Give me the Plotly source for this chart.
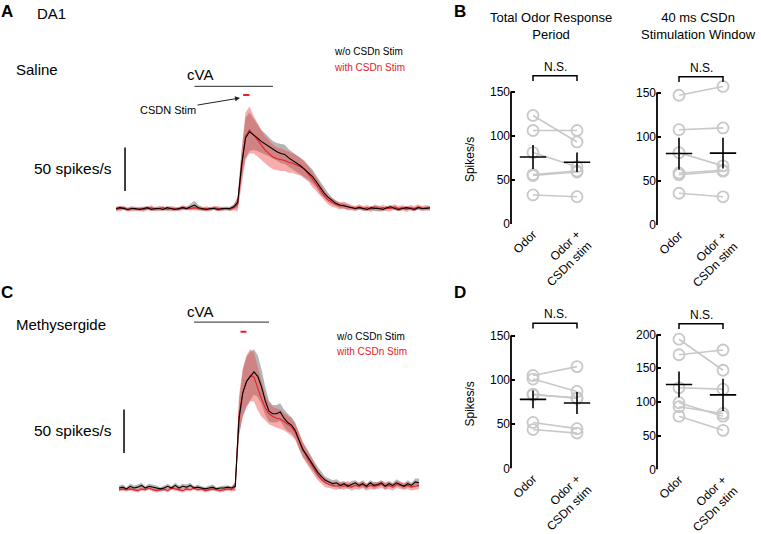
import numpy as np
import plotly.graph_objects as go

W, H = 761, 534
FONT = "Liberation Sans, Arial, sans-serif"
RED = "#e3222a"
PT_GRAY = "#c8c8c8"

# PSTH time base (s), 50 ms bins
TIME = np.round(np.arange(0, 4.0001, 0.05), 2)
ODOR_ON, ODOR_OFF = 1.0, 2.0
STIM_ON, STIM_OFF = 1.62, 1.70
SCALE_BAR = 50  # spikes/s

# A: Saline, mean rate +/- SEM (spikes/s)
A_CTRL = [5, 6, 5, 4, 5, 5, 4, 5, 6, 4,
          5, 5, 4, 6, 5, 4, 5, 6, 5, 7,
          9, 6, 5, 4, 5, 5, 4, 5, 5, 5,
          7, 12, 55, 86, 93, 90, 86, 82, 79, 76,
          72, 70, 68, 67, 63, 60, 57, 54, 50, 46,
          42, 36, 29, 23, 18, 14, 11, 9, 8, 7,
          6, 5, 6, 5, 4, 6, 5, 5, 4, 6,
          7, 5, 4, 5, 6, 5, 4, 6, 5, 5,
          6]
A_CTRL_SEM = [2, 2, 2, 2, 2, 2, 2, 2, 2, 2,
              2, 2, 2, 2, 2, 2, 2, 2, 2, 3,
              5, 3, 2, 2, 2, 2, 2, 2, 2, 2,
              3, 6, 16, 23, 22, 18, 15, 13, 12, 11,
              10, 10, 11, 11, 10, 10, 9, 9, 9, 8,
              8, 7, 7, 6, 5, 4, 3, 3, 3, 3,
              2, 2, 2, 2, 2, 2, 3, 3, 2, 2,
              2, 2, 2, 2, 2, 2, 2, 2, 2, 2,
              2]
A_STIM = [4, 5, 6, 4, 5, 4, 5, 4, 5, 6,
          4, 5, 6, 4, 5, 5, 4, 6, 5, 5,
          6, 5, 4, 5, 4, 6, 5, 4, 5, 4,
          6, 10, 52, 88, 95, 90, 84, 78, 72, 68,
          64, 62, 61, 60, 58, 57, 55, 53, 50, 45,
          39, 33, 26, 20, 15, 12, 10, 8, 9, 7,
          6, 5, 7, 5, 6, 4, 7, 5, 6, 5,
          5, 7, 5, 6, 4, 6, 5, 7, 5, 6,
          5]
A_STIM_SEM = [2, 3, 2, 2, 3, 2, 2, 3, 2, 3,
              2, 3, 2, 2, 3, 2, 2, 3, 2, 2,
              3, 2, 2, 3, 2, 2, 3, 2, 2, 2,
              3, 8, 20, 27, 27, 22, 19, 17, 16, 15,
              14, 13, 13, 12, 12, 11, 11, 10, 10, 9,
              9, 8, 7, 6, 5, 5, 4, 4, 4, 4,
              3, 3, 3, 3, 3, 3, 3, 3, 3, 3,
              3, 3, 3, 3, 3, 3, 3, 3, 3, 3,
              3]

# C: Methysergide
C_CTRL = [6, 7, 5, 8, 6, 7, 9, 6, 8, 7,
          6, 5, 6, 8, 6, 9, 6, 8, 7, 9,
          6, 7, 6, 5, 6, 7, 5, 6, 6, 7,
          6, 8, 85, 115, 128, 134, 139, 134, 122, 106,
          94, 91, 91, 93, 86, 81, 78, 72, 60, 50,
          44, 37, 30, 24, 19, 15, 13, 11, 12, 9,
          11, 8, 10, 12, 9, 11, 8, 12, 9, 10,
          12, 8, 11, 9, 12, 10, 8, 11, 9, 13,
          12]
C_CTRL_SEM = [3, 3, 2, 3, 3, 3, 3, 2, 3, 3,
              3, 2, 3, 3, 2, 3, 3, 3, 3, 3,
              2, 3, 2, 2, 3, 3, 2, 2, 3, 2,
              2, 5, 20, 26, 28, 28, 26, 24, 20, 16,
              12, 10, 10, 10, 10, 10, 9, 9, 9, 8,
              8, 7, 7, 6, 5, 4, 4, 4, 4, 4,
              3, 3, 4, 3, 3, 4, 3, 3, 4, 3,
              3, 4, 3, 3, 4, 3, 3, 4, 3, 4,
              5]
C_STIM = [4, 5, 4, 5, 4, 3, 5, 4, 6, 4,
          3, 4, 5, 3, 6, 5, 4, 3, 5, 4,
          6, 4, 5, 3, 4, 5, 4, 3, 4, 5,
          4, 8, 90, 115, 128, 135, 133, 120, 108, 98,
          91, 88, 86, 85, 82, 79, 76, 70, 60, 50,
          42, 35, 28, 21, 16, 12, 10, 9, 8, 9,
          8, 10, 7, 9, 8, 10, 7, 9, 8, 9,
          10, 8, 9, 7, 10, 9, 8, 9, 7, 8,
          9]
C_STIM_SEM = [2, 2, 2, 2, 2, 2, 2, 2, 2, 2,
              2, 2, 2, 2, 2, 2, 2, 2, 2, 2,
              2, 2, 2, 2, 2, 2, 2, 2, 2, 2,
              2, 5, 22, 28, 30, 30, 28, 25, 20, 15,
              12, 11, 11, 11, 10, 10, 10, 9, 9, 9,
              8, 8, 7, 6, 5, 5, 4, 4, 4, 4,
              4, 4, 4, 4, 4, 4, 4, 4, 4, 4,
              4, 4, 4, 4, 4, 4, 4, 4, 4, 4,
              4]

# B/D: per-fly responses (spikes/s)
CATS = ["Odor", "Odor +<br>CSDn stim"]
B1_ODOR = [123, 106, 81, 56, 55, 33]
B1_STIM = [93, 106, 65, 60, 59, 31]
B1_MEAN, B1_ERR = [76, 70], [13.5, 11]
B2_ODOR = [147, 108, 82, 59, 57, 36]
B2_STIM = [157, 110, 67, 62, 61, 32]
B2_MEAN, B2_ERR = [81, 81.5], [18, 17.5]
D1_ODOR = [105, 101, 84, 83, 52, 44]
D1_STIM = [115, 87, 79, 80, 45, 40]
D1_MEAN, D1_ERR = [78, 74], [10, 12.5]
D2_ODOR = [193, 170, 121, 99, 93, 79]
D2_STIM = [147, 177, 119, 79, 83, 58]
D2_MEAN, D2_ERR = [126, 110.5], [19, 24]


def px(x):
    return x / W


def py(y):
    return 1 - y / H


fig = go.Figure()


def add_psth(mean, sem, color, fill, n):
    mean, sem = np.array(mean, float), np.array(sem, float)
    ax = dict(xaxis="x" + n, yaxis="y" + n, showlegend=False, hoverinfo="skip")
    fig.add_trace(go.Scatter(x=TIME, y=mean + sem, mode="lines", line=dict(width=0), **ax))
    fig.add_trace(go.Scatter(x=TIME, y=mean - sem, mode="lines", line=dict(width=0),
                             fill="tonexty", fillcolor=fill, **ax))
    return go.Scatter(x=TIME, y=mean, mode="lines", line=dict(color=color, width=1.1), **ax)


for n, ctrl, ctrl_sem, stim, stim_sem in [("", A_CTRL, A_CTRL_SEM, A_STIM, A_STIM_SEM),
                                           ("2", C_CTRL, C_CTRL_SEM, C_STIM, C_STIM_SEM)]:
    black = add_psth(ctrl, ctrl_sem, "black", "rgba(120,120,120,0.55)", n)
    red = add_psth(stim, stim_sem, RED, "rgba(240,70,70,0.45)", n)
    fig.add_trace(red)
    fig.add_trace(black)


def add_pairs(odor, stim, mean, err, bracket, n):
    xs, ys = [], []
    for a, b in zip(odor, stim):
        xs += [0, 1, None]
        ys += [a, b, None]
    ax = dict(xaxis="x" + n, yaxis="y" + n, showlegend=False, hoverinfo="skip")
    fig.add_trace(go.Scatter(x=xs, y=ys, mode="lines+markers", cliponaxis=False,
                             line=dict(color=PT_GRAY, width=1.6),
                             marker=dict(symbol="circle-open", size=11, color=PT_GRAY,
                                         line=dict(width=1.8)), **ax))
    fig.add_trace(go.Scatter(x=[0, 1], y=mean, mode="markers", cliponaxis=False,
                             marker=dict(size=1, color="rgba(0,0,0,0)"),
                             error_y=dict(type="data", array=err, color="black", thickness=1.6, width=0),
                             error_x=dict(type="constant", value=0.3, color="black", thickness=1.6, width=0),
                             **ax))
    lo, hi = bracket
    fig.add_trace(go.Scatter(x=[0, 0, 1, 1], y=[lo, hi, hi, lo], mode="lines", cliponaxis=False,
                             line=dict(color="black", width=1.5), **ax))
    fig.add_annotation(x=0.5, y=hi, xref="x" + n, yref="y" + n, text="N.S.", showarrow=False,
                       yanchor="bottom", yshift=0, font=dict(size=12))


add_pairs(B1_ODOR, B1_STIM, B1_MEAN, B1_ERR, (162, 168), "3")
add_pairs(B2_ODOR, B2_STIM, B2_MEAN, B2_ERR, (162, 168), "4")
add_pairs(D1_ODOR, D1_STIM, D1_MEAN, D1_ERR, (158, 164), "5")
add_pairs(D2_ODOR, D2_STIM, D2_MEAN, D2_ERR, (208, 216), "6")

# PSTH axes (hidden)
hidden = dict(visible=False, range=[0, 4], fixedrange=True)
layout_axes = dict(
    xaxis=dict(domain=[px(116), px(430)], anchor="y", **hidden),
    yaxis=dict(domain=[py(219.5), py(39.5)], anchor="x", visible=False, range=[0, 200]),
    xaxis2=dict(domain=[px(119), px(419)], anchor="y2", **hidden),
    yaxis2=dict(domain=[py(508.5), py(319.5)], anchor="x2", visible=False, range=[0, 210]),
)

cat_x = dict(range=[-0.5, 1.5], tickvals=[0, 1], ticktext=CATS, tickangle=-45,
             showgrid=False, zeroline=False, showline=False, ticks="",
             tickfont=dict(size=12, color="black"))
val_y = dict(showgrid=False, zeroline=False, showline=False, ticks="inside", ticklen=4,
             tickwidth=1.5, tickcolor="black", tickfont=dict(size=12, color="black"))
for n, xd, yd, rng, tv in [("3", (511, 599), (231, 62.6), 185, [0, 50, 100, 150]),
                           ("4", (657, 745), (232, 63.6), 185, [0, 50, 100, 150]),
                           ("5", (511, 599), (483, 314), 185, [0, 50, 100, 150]),
                           ("6", (657, 745), (484, 317), 240, [0, 50, 100, 150, 200])]:
    layout_axes["xaxis" + n] = dict(domain=[px(xd[0]), px(xd[1])], anchor="y" + n, **cat_x)
    layout_axes["yaxis" + n] = dict(domain=[py(yd[0]), py(yd[1])], anchor="x" + n,
                                    range=[0, rng], tickvals=tv, **val_y)
    fig.add_shape(type="line", xref="x%s domain" % n, yref="y" + n, x0=0, x1=0, y0=0, y1=tv[-1],
                  line=dict(color="black", width=1.8))

# odor / stim bars and scale bars on the PSTHs
for n, odor_y, stim_y, bar_x, bar_y0 in [("", 145, 135, 0.115, 25), ("2", 196, 185, 0.067, 46)]:
    fig.add_shape(type="line", xref="x" + n, yref="y" + n, x0=ODOR_ON, x1=ODOR_OFF,
                  y0=odor_y, y1=odor_y, line=dict(color="#555555", width=1.2))
    fig.add_shape(type="line", xref="x" + n, yref="y" + n, x0=STIM_ON, x1=STIM_OFF,
                  y0=stim_y, y1=stim_y, line=dict(color=RED, width=2))
    fig.add_shape(type="line", xref="x" + n, yref="y" + n, x0=bar_x, x1=bar_x,
                  y0=bar_y0, y1=bar_y0 + SCALE_BAR, line=dict(color="black", width=1.5))


def label(text, x, y, size=12, xanchor="center", color="black", **kw):
    fig.add_annotation(x=px(x), y=py(y), xref="paper", yref="paper", text=text, showarrow=False,
                       xanchor=xanchor, yanchor="middle", font=dict(size=size, color=color), **kw)


label("<b>A</b>", 7, 12, 17)
label("DA1", 35, 14, 15, "left")
label("Saline", 14, 72, 15, "left")
label("cVA", 200, 77, 15)
label("w/o CSDn Stim", 332, 53, 10, "left")
label("with CSDn Stim", 332, 70, 10, "left", RED)
label("50 spikes/s", 114, 174, 15.5, "right")
fig.add_annotation(x=px(240), y=py(101), xref="paper", yref="paper", text="CSDN Stim",
                   showarrow=True, ax=-72, ay=12, arrowhead=2, arrowsize=1, arrowwidth=1,
                   arrowcolor="#222222", standoff=0, font=dict(size=11, color="black"))

label("<b>C</b>", 7, 302, 17)
label("Methysergide", 14, 335, 15, "left")
label("cVA", 200, 321, 15)
label("w/o CSDn Stim", 334, 347, 10, "left")
label("with CSDn Stim", 334, 362, 10, "left", RED)
label("50 spikes/s", 114, 444, 15.5, "right")

label("<b>B</b>", 460, 12, 17)
label("Total Odor Response<br>Period", 551, 27, 13)
label("40 ms CSDn<br>Stimulation Window", 698, 27, 13)
label("Spikes/s", 470, 165, 12, textangle=-90)
label("<b>D</b>", 460, 302, 17)
label("Spikes/s", 470, 417, 12, textangle=-90)

fig.update_layout(
    width=W, height=H,
    margin=dict(l=0, r=0, t=0, b=0),
    paper_bgcolor="white", plot_bgcolor="white",
    font=dict(family=FONT, color="black"),
    showlegend=False,
    **layout_axes,
)

# the page body has a default 8px margin; drop it so the figure fills the window
fig.write_html("out.html", config={"displayModeBar": False},
               post_script="document.body.style.margin='0';")
